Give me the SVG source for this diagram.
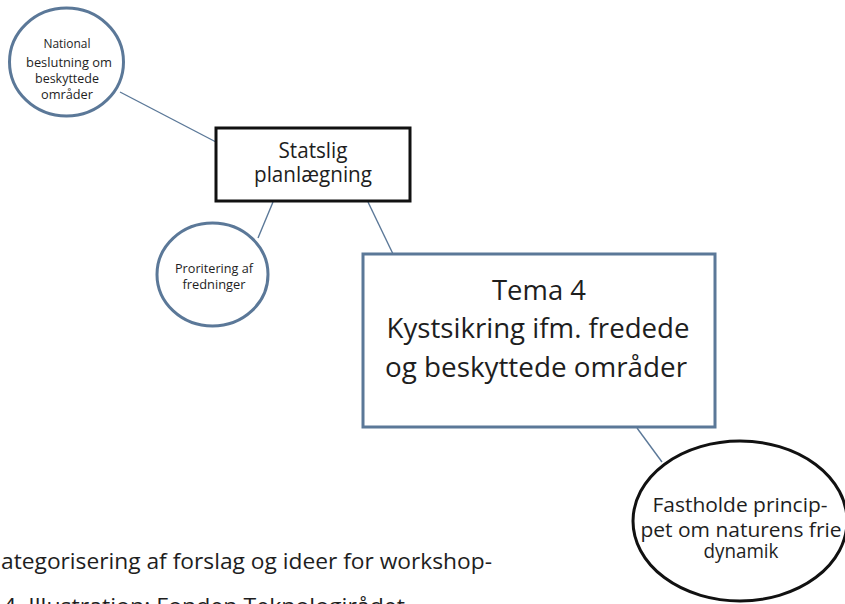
<svg xmlns="http://www.w3.org/2000/svg" width="845" height="604" viewBox="0 0 845 604">
<style>
text{font-family:"Open Sans","Noto Sans","Liberation Sans",sans-serif;fill:#1e1e1e;text-anchor:middle}
.blue{fill:#fff;stroke:#5b7898;stroke-width:3}
.black{fill:#fff;stroke:#111;stroke-width:3}
.conn{stroke:#5b7898;stroke-width:1.4;fill:none}
</style>
<rect width="845" height="604" fill="#fff"/>
<g id="connectors">
<line class="conn" x1="120" y1="92" x2="216" y2="142"/>
<line class="conn" x1="273" y1="202" x2="258" y2="238"/>
<line class="conn" x1="368" y1="202" x2="393" y2="254"/>
<line class="conn" x1="637" y1="428" x2="662" y2="462"/>
</g>
<g id="national">
<ellipse class="blue" cx="66.5" cy="62" rx="57" ry="54"/>
<text font-size="12.5"><tspan x="67" y="48" textLength="47" lengthAdjust="spacingAndGlyphs">National</tspan><tspan x="69" y="67" textLength="86" lengthAdjust="spacingAndGlyphs">beslutning om</tspan><tspan x="67" y="83" textLength="64" lengthAdjust="spacingAndGlyphs">beskyttede</tspan><tspan x="67" y="99" textLength="52" lengthAdjust="spacingAndGlyphs">områder</tspan></text>
</g>
<g id="statslig">
<rect class="black" x="216" y="128" width="194" height="73"/>
<text font-size="21"><tspan x="313" y="158" textLength="69" lengthAdjust="spacingAndGlyphs">Statslig</tspan><tspan x="313" y="182" textLength="118" lengthAdjust="spacingAndGlyphs">planlægning</tspan></text>
</g>
<g id="proritering">
<ellipse class="blue" cx="212.5" cy="274.5" rx="55.5" ry="51.5"/>
<text font-size="12.5"><tspan x="214" y="273" textLength="78" lengthAdjust="spacingAndGlyphs">Proritering af</tspan><tspan x="214" y="289" textLength="63" lengthAdjust="spacingAndGlyphs">fredninger</tspan></text>
</g>
<g id="tema4">
<rect class="blue" x="363" y="254" width="352" height="173"/>
<text font-size="28"><tspan x="539" y="300" textLength="94" lengthAdjust="spacingAndGlyphs">Tema 4</tspan><tspan x="538" y="338" textLength="303" lengthAdjust="spacingAndGlyphs">Kystsikring ifm. fredede</tspan><tspan x="536" y="377" textLength="302" lengthAdjust="spacingAndGlyphs">og beskyttede områder</tspan></text>
</g>
<g id="fastholde">
<ellipse class="black" cx="740" cy="521" rx="107" ry="80"/>
<text font-size="20"><tspan x="740" y="512" textLength="175" lengthAdjust="spacingAndGlyphs">Fastholde princip-</tspan><tspan x="741" y="537" textLength="201" lengthAdjust="spacingAndGlyphs">pet om naturens frie</tspan><tspan x="741" y="558" textLength="75" lengthAdjust="spacingAndGlyphs">dynamik</tspan></text>
</g>
<g id="caption">
<text font-size="22" style="text-anchor:start"><tspan x="1" y="569" textLength="491" lengthAdjust="spacingAndGlyphs">ategorisering af forslag og ideer for workshop-</tspan><tspan x="3" y="614" textLength="402" lengthAdjust="spacingAndGlyphs">4. Illustration: Fonden Teknologirådet</tspan></text>
</g>
</svg>
